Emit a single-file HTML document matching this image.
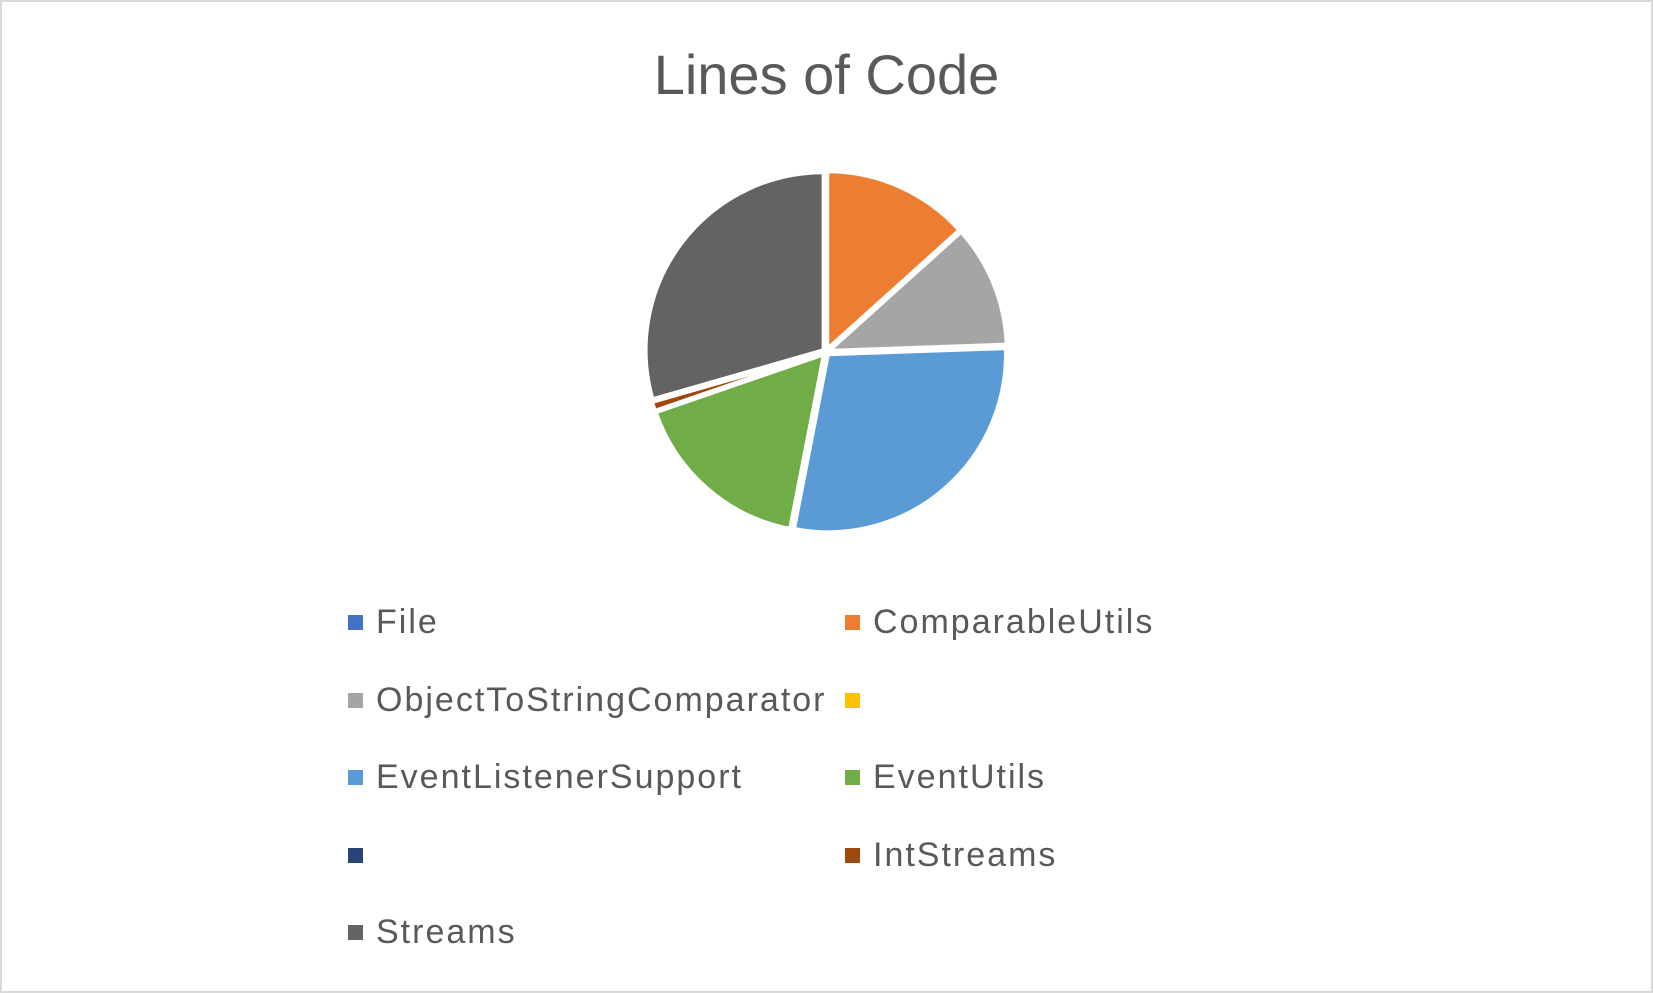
<!DOCTYPE html>
<html><head><meta charset="utf-8"><style>
body{margin:0;background:#fff;}
#chart{position:absolute;left:0;top:0;width:1649px;height:989px;border:2px solid #d9d9d9;background:#fff;font-family:"Liberation Sans",sans-serif;color:#595959;}
#title{position:absolute;left:0;width:1649px;top:40px;text-align:center;font-size:56px;}
.leg{position:absolute;font-size:34px;letter-spacing:2px;line-height:40px;white-space:nowrap;}
.sw{position:absolute;width:15px;height:15px;}
</style></head><body>
<div id="chart">
<div id="title">Lines of Code</div>
<svg id="pie" width="1653" height="993" style="position:absolute;left:-2px;top:-2px"></svg>
<div id="legend"></div>
</div>
<script>
const categories=["File","ComparableUtils","ObjectToStringComparator","","EventListenerSupport","EventUtils","","IntStreams","Streams"];
const values=[0,48,40,0,103,60,0,3,106];
const colors=["#4472C4","#ED7D31","#A5A5A5","#FFC000","#5B9BD5","#70AD47","#264478","#9E480E","#636363"];
const cx=826,cy=352,r=178;
const svg=document.getElementById('pie');
const total=values.reduce((a,b)=>a+b,0);
let a0=0;
values.forEach((v,i)=>{
  const a1=a0+v/total*2*Math.PI;
  if(v>0){
    const mid=(a0+a1)/2, off=3;
    const ox=cx+off*Math.sin(mid), oy=cy-off*Math.cos(mid);
    const x0=ox+r*Math.sin(a0),y0=oy-r*Math.cos(a0),x1=ox+r*Math.sin(a1),y1=oy-r*Math.cos(a1);
    const p=document.createElementNS('http://www.w3.org/2000/svg','path');
    p.setAttribute('d',`M${ox},${oy}L${x0},${y0}A${r},${r} 0 ${a1-a0>Math.PI?1:0} 1 ${x1},${y1}Z`);
    p.setAttribute('fill',colors[i]);p.setAttribute('stroke','#fff');p.setAttribute('stroke-width','4');
    
    
    svg.appendChild(p);
  }
  a0=a1;
});
const leg=document.getElementById('legend');
categories.forEach((c,i)=>{
  const col=i%2,row=Math.floor(i/2);
  const x=col?845:348,y=622+row*77.5;
  const s=document.createElement('div');s.className='sw';
  s.style.left=(x-2)+'px';s.style.top=(y-9)+'px';s.style.background=colors[i];
  
  
  leg.appendChild(s);
  const t=document.createElement('div');t.className='leg';
  t.style.left=(x+26)+'px';t.style.top=(y-22)+'px';t.textContent=c;
  
  
  leg.appendChild(t);
});
</script>
</body></html>
